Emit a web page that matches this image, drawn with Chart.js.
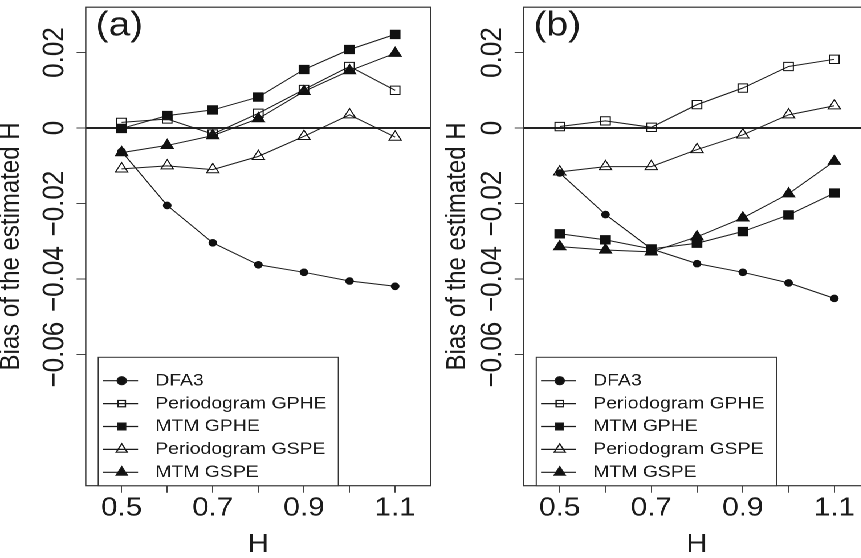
<!DOCTYPE html>
<html>
<head>
<meta charset="utf-8">
<script src="https://cdn.jsdelivr.net/npm/chart.js@4.4.1/dist/chart.umd.min.js"></script>
<style>
  html, body { margin: 0; padding: 0; background: #fff; overflow: hidden; width: 861px; height: 558px; }
  /* the reference is stretched sideways, so the whole drawing is scaled in x */
  #wrap { position: absolute; left: 0; top: 0; width: 805px; height: 558px; transform: scaleX(1.14); transform-origin: 0 0; }
  #ca { position: absolute; left: 0; top: 0; }
  #cb { position: absolute; left: 385px; top: 0; }
</style>
</head>
<body>
<div id="wrap">
  <canvas id="ca" width="385" height="558"></canvas>
  <canvas id="cb" width="420" height="558"></canvas>
</div>
<script>
const H = [0.5, 0.6, 0.7, 0.8, 0.9, 1.0, 1.1];
const xTicks = [0.5, 0.6, 0.7, 0.8, 0.9, 1.0, 1.1];
const xTickLabels = [0.5, 0.7, 0.9, 1.1];
const yTicks = [-0.06, -0.04, -0.02, 0, 0.02];
const seriesNames = ["DFA3", "Periodogram GPHE", "MTM GPHE", "Periodogram GSPE", "MTM GSPE"];

// panel (a)
const dfa3A    = [-0.0062, -0.0205, -0.0304, -0.0362, -0.0382, -0.0405, -0.0419];
const perGpheA = [ 0.0015,  0.0024, -0.0016,  0.0039,  0.0102,  0.0163,  0.0100];
const mtmGpheA = [-0.0001,  0.0033,  0.0048,  0.0082,  0.0155,  0.0208,  0.0248];
const perGspeA = [-0.0108, -0.0100, -0.0110, -0.0075, -0.0022,  0.0035, -0.0024];
const mtmGspeA = [-0.0065, -0.0046, -0.0020,  0.0025,  0.0097,  0.0152,  0.0198];

// panel (b)
const dfa3B    = [-0.0119, -0.0229, -0.0320, -0.0359, -0.0382, -0.0410, -0.0451];
const perGpheB = [ 0.0004,  0.0019,  0.0002,  0.0062,  0.0106,  0.0163,  0.0182];
const mtmGpheB = [-0.0280, -0.0296, -0.0320, -0.0305, -0.0274, -0.0230, -0.0172];
const perGspeB = [-0.0116, -0.0102, -0.0102, -0.0057, -0.0018,  0.0035,  0.0059];
const mtmGspeB = [-0.0314, -0.0323, -0.0328, -0.0288, -0.0238, -0.0174, -0.0088];

const markers = [
  { style: "circle",   radius: 3.3, legend: 4.0, filled: true },
  { style: "rect",     radius: 5.9, legend: 4.5, filled: false },
  { style: "rect",     radius: 5.9, legend: 4.8, filled: true },
  { style: "triangle", radius: 6.2, legend: 5.6, filled: false },
  { style: "triangle", radius: 6.2, legend: 5.6, filled: true }
];

Chart.defaults.font.family = '"Liberation Sans", Arial, Helvetica, sans-serif';
Chart.defaults.color = "#1a1a1a";

function drawMarker(ctx, m, x, y, r) {
  ctx.beginPath();
  if (m.style === "circle") {
    ctx.arc(x, y, r, 0, Math.PI * 2);
  } else if (m.style === "rect") {
    const s = r * Math.SQRT1_2;
    ctx.rect(x - s, y - s, 2 * s, 2 * s);
  } else {
    ctx.moveTo(x, y - r);
    ctx.lineTo(x + r * Math.sin(Math.PI * 2 / 3), y + r / 2);
    ctx.lineTo(x - r * Math.sin(Math.PI * 2 / 3), y + r / 2);
    ctx.closePath();
  }
  if (m.filled) ctx.fill();
  ctx.stroke();
}

const panelPlugin = {
  id: "panel",
  afterDatasetsDraw(chart, args, opts) {
    const { ctx, chartArea: a } = chart;
    ctx.save();
    ctx.strokeStyle = "#333";
    ctx.lineWidth = 1.2;
    ctx.strokeRect(a.left, a.top, a.right - a.left, a.bottom - a.top);

    ctx.fillStyle = "#1a1a1a";
    ctx.font = '34px "Liberation Sans", Arial, sans-serif';
    ctx.textBaseline = "alphabetic";
    ctx.textAlign = "left";
    ctx.fillText(opts.tag, a.left + 8.7, 35.5);

    // legend
    const bx = a.left + 11, bw = 210.6, by = 357.3, bh = a.bottom - by;
    ctx.fillStyle = "#fff";
    ctx.fillRect(bx, by, bw, bh);
    ctx.lineWidth = 1;
    ctx.strokeRect(bx, by, bw, bh);
    ctx.font = '17px "Liberation Sans", Arial, sans-serif';
    ctx.textBaseline = "middle";
    seriesNames.forEach((name, i) => {
      const y = 380.7 + i * 22.9;
      ctx.strokeStyle = "#1a1a1a";
      ctx.fillStyle = "#111";
      ctx.lineWidth = 1.2;
      ctx.beginPath();
      ctx.moveTo(a.left + 15.2, y);
      ctx.lineTo(a.left + 45.9, y);
      ctx.stroke();
      drawMarker(ctx, markers[i], a.left + 31.6, y, markers[i].legend);
      ctx.fillStyle = "#1a1a1a";
      ctx.fillText(name, a.left + 61, y);
    });
    ctx.restore();
  }
};

function buildChart(id, tag, series, yAxisWidth, titlePad, padRight) {
  const datasets = series.map((vals, i) => ({
    label: seriesNames[i],
    data: H.map((h, j) => ({ x: h, y: vals[j] })),
    borderColor: "#1a1a1a",
    borderWidth: 1,
    pointStyle: markers[i].style,
    pointRadius: markers[i].radius,
    pointHoverRadius: markers[i].radius,
    pointBackgroundColor: markers[i].filled ? "#111" : "rgba(0,0,0,0)",
    pointBorderColor: "#111",
    pointBorderWidth: 1,
    fill: false,
    tension: 0
  }));

  return new Chart(document.getElementById(id), {
    type: "line",
    data: { datasets },
    options: {
      responsive: false,
      animation: false,
      devicePixelRatio: 2,
      layout: { padding: { top: 6, right: padRight, bottom: 0, left: 0 } },
      plugins: {
        legend: { display: false },
        tooltip: { enabled: false },
        panel: { tag }
      },
      scales: {
        x: {
          type: "linear",
          min: 0.4213,
          max: 1.178,
          afterBuildTicks: s => { s.ticks = xTicks.map(v => ({ value: v })); },
          afterFit: s => { s.height = 72.3; },
          ticks: {
            autoSkip: false,
            maxRotation: 0,
            padding: 0,
            font: { size: 26 },
            callback: v => xTickLabels.some(t => Math.abs(t - v) < 1e-9) ? String(v) : ""
          },
          grid: { drawOnChartArea: false, tickLength: 7, tickColor: "#444", tickWidth: 1 },
          border: { display: false },
          title: { display: true, text: "H", font: { size: 26, lineHeight: 1 }, padding: 0 }
        },
        y: {
          type: "linear",
          min: -0.0947,
          max: 0.032,
          afterBuildTicks: s => { s.ticks = yTicks.map(v => ({ value: v })); },
          afterFit: s => { s.width = yAxisWidth; },
          ticks: {
            autoSkip: false,
            minRotation: 90,
            maxRotation: 90,
            crossAlign: "center",
            padding: -14,
            font: { size: 26 },
            callback: v => v === 0 ? "0" : (v < 0 ? "\u2212" + Math.abs(v).toFixed(2) : v.toFixed(2))
          },
          grid: {
            drawOnChartArea: true,
            color: c => (c.tick && c.tick.value === 0) ? "#222" : "rgba(0,0,0,0)",
            lineWidth: c => (c.tick && c.tick.value === 0) ? 2 : 1,
            tickLength: 8,
            tickColor: "#444",
            tickWidth: 1
          },
          border: { display: false },
          title: {
            display: true,
            text: "Bias of the estimated H",
            font: { size: 24, lineHeight: 1 },
            padding: { top: titlePad, bottom: 0 }
          }
        }
      }
    },
    plugins: [panelPlugin]
  });
}

buildChart("ca", "(a)", [dfa3A, perGpheA, mtmGpheA, perGspeA, mtmGspeA], 75.2, -2.1, 6.1);
buildChart("cb", "(b)", [dfa3B, perGpheB, mtmGpheB, perGspeB, mtmGspeB], 74.4, 4.6, 41.8);
</script>
</body>
</html>
